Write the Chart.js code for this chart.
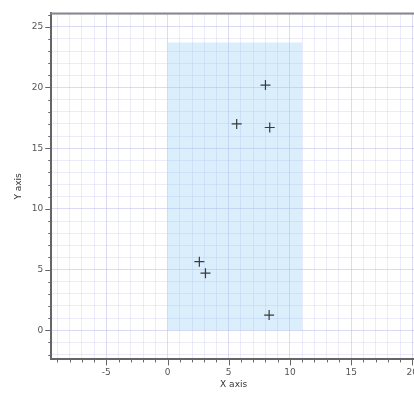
<!DOCTYPE html>
<html>
<head>
<meta charset="utf-8">
<script src="https://cdn.jsdelivr.net/npm/chart.js@4"></script>
<style>
  html, body { margin:0; padding:0; background:#fff; overflow:hidden; }
  #wrap { width:432px; height:396px; position:relative; }
</style>
</head>
<body>
<div id="wrap"><canvas id="c"></canvas></div>
<script>
// ---- DATA ----
const pointsX = [8.0, 5.65, 8.35, 2.6, 3.1, 8.3];
const pointsY = [20.2, 17.0, 16.7, 5.65, 4.7, 1.25];
const regionX = [0, 11];
const regionTop = 23.7;
const xRange = [-9.5, 20.3];
const yRange = [-2.4, 26.1];

const TXT = '#555';
const gridCol = ctx => (ctx.tick && ctx.tick.value % 5 === 0) ? 'rgba(180,180,230,0.48)' : 'rgba(200,200,240,0.36)';

// top border + major/minor tick marks
const frame = {
  id: 'frame',
  afterDraw(chart) {
    const c = chart.ctx, a = chart.chartArea;
    const xs = chart.scales.x, ys = chart.scales.y;
    c.save();
    c.strokeStyle = '#666';
    c.lineWidth = 1;
    xs.ticks.forEach(t => {
      const px = Math.round(xs.getPixelForValue(t.value)) + 0.5;
      const len = t.value % 5 === 0 ? 6 : 3;
      c.beginPath(); c.moveTo(px, a.bottom); c.lineTo(px, a.bottom + len); c.stroke();
    });
    ys.ticks.forEach(t => {
      const py = Math.round(ys.getPixelForValue(t.value)) + 0.5;
      const len = t.value % 5 === 0 ? 6 : 3;
      c.beginPath(); c.moveTo(a.left, py); c.lineTo(a.left - len, py); c.stroke();
    });
    c.strokeStyle = '#888';
    c.lineWidth = 2;
    c.beginPath(); c.moveTo(a.left - 1, a.top); c.lineTo(a.right + 20, a.top); c.stroke();
    c.restore();
  }
};

new Chart(document.getElementById('c'), {
  type: 'scatter',
  data: {
    datasets: [
      {
        data: pointsX.map((x, i) => ({x, y: pointsY[i]})),
        pointStyle: 'cross', radius: 5, hoverRadius: 5,
        borderColor: '#3a3a3a', borderWidth: 1.2, backgroundColor: '#3a3a3a',
        order: 0
      },
      {
        type: 'line',
        data: regionX.map(x => ({x, y: regionTop})),
        showLine: true, borderWidth: 0, pointRadius: 0,
        fill: 'origin', backgroundColor: 'rgba(150,205,245,0.35)',
        order: 1
      }
    ]
  },
  options: {
    responsive: true, maintainAspectRatio: false, animation: false,
    layout: { padding: { top: 2, left: 9, right: 16, bottom: 2 } },
    plugins: { legend: { display: false }, tooltip: { enabled: false } },
    scales: {
      x: {
        type: 'linear', min: xRange[0], max: xRange[1],
        border: { display: true, color: '#666', width: 2 },
        grid: { color: gridCol, lineWidth: 1, drawTicks: false },
        ticks: {
          stepSize: 1, includeBounds: false, autoSkip: false, maxRotation: 0, padding: 8,
          color: TXT, font: { family: 'DejaVu Sans', size: 9 },
          callback: v => v % 5 === 0 ? String(v) : ''
        },
        title: { display: true, text: 'X axis', color: '#333', font: { family: 'DejaVu Sans', size: 9 }, padding: { top: -7, bottom: 4 } }
      },
      y: {
        type: 'linear', min: yRange[0], max: yRange[1],
        border: { display: true, color: '#666', width: 2 },
        grid: { color: gridCol, lineWidth: 1, drawTicks: false },
        ticks: {
          stepSize: 1, includeBounds: false, autoSkip: false, padding: 8,
          color: TXT, font: { family: 'DejaVu Sans', size: 9 },
          callback: v => v % 5 === 0 ? String(v) : ''
        },
        title: { display: true, text: 'Y axis', color: '#333', font: { family: 'DejaVu Sans', size: 9 }, padding: { top: 4, bottom: 0 } }
      }
    }
  },
  plugins: [frame]
});
</script>
</body>
</html>
